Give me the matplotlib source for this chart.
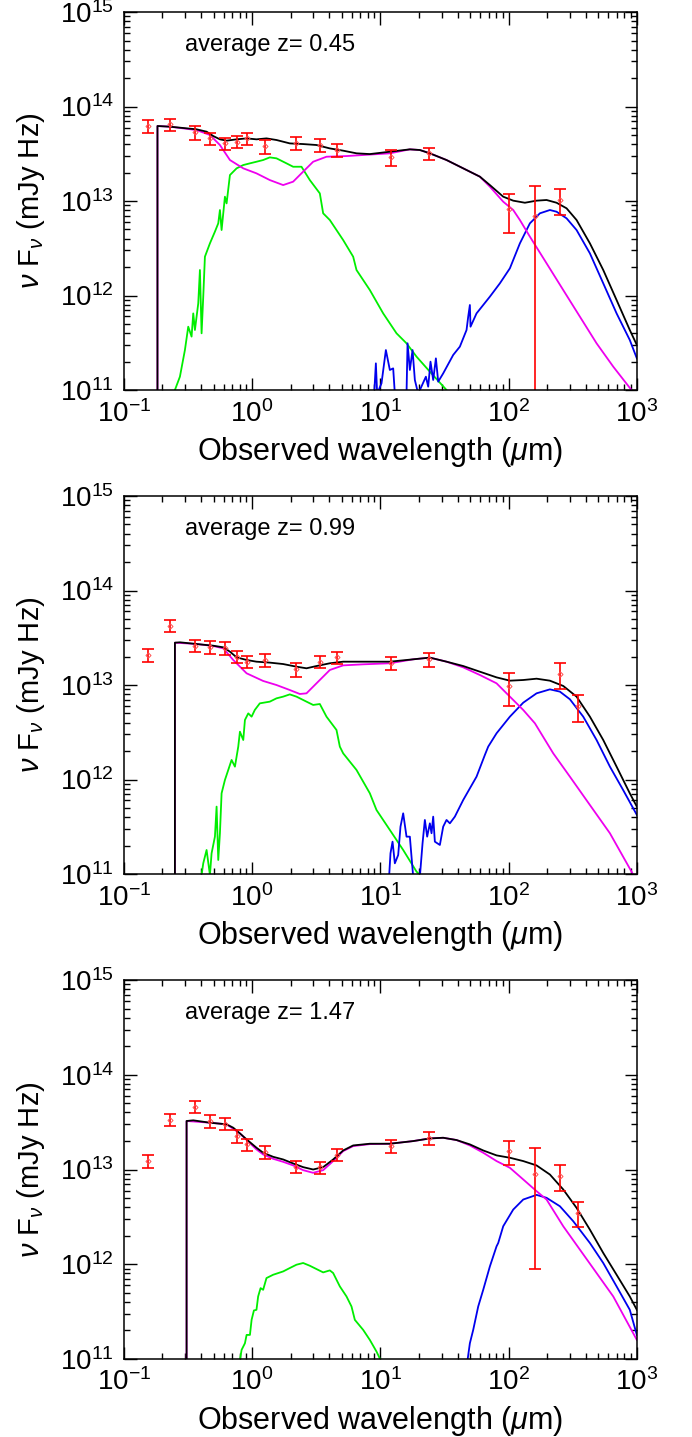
import numpy as np
import matplotlib
matplotlib.use('Agg')
from matplotlib import pyplot as plt
from matplotlib.ticker import LogLocator, NullFormatter

plt.rcParams['font.family'] = ['Liberation Sans', 'DejaVu Sans']
plt.rcParams['mathtext.fontset'] = 'custom'
plt.rcParams['mathtext.rm'] = 'Liberation Sans'
plt.rcParams['mathtext.it'] = 'Liberation Sans:italic'
plt.rcParams['mathtext.bf'] = 'Liberation Sans:bold'

# ---- photometry (wavelength in micron, nuFnu in mJy Hz) ----
wl_all = [0.153, 0.229, 0.356, 0.473, 0.62, 0.763, 0.913, 1.25, 2.2, 3.4, 4.6, 12.0, 24.0, 100.0, 160.0, 250.0, 350.0]

p1_flux = [6.27e13, 6.5e13, 5.33e13, 4.6e13, 4.08e13, 4.24e13, 4.6e13, 3.82e13, 4.14e13, 3.92e13, 3.47e13,
           2.9e13, 3.2e13, 8.2e12, 7.0e12, 1.03e13]
p1_err = [1.0e13, 0.95e13, 0.85e13, 0.65e13, 0.62e13, 0.6e13, 0.7e13, 0.65e13, 0.65e13, 0.6e13, 0.55e13,
          0.55e13, 0.48e13, 3.6e12, 7.3e12, 3.1e12]
p1_wl = wl_all[:16]

p2_flux = [2.07e13, 4.24e13, 2.61e13, 2.51e13, 2.45e13, 2.0e13, 1.77e13, 1.84e13, 1.47e13, 1.77e13, 1.96e13,
           1.72e13, 1.87e13, 9.75e12, 1.30e13, 6.0e12]
p2_err = [0.32e13, 0.6e13, 0.4e13, 0.38e13, 0.37e13, 0.3e13, 0.27e13, 0.28e13, 0.24e13, 0.27e13, 0.3e13,
          0.27e13, 0.3e13, 3.7e12, 3.9e12, 1.9e12]
p2_wl = wl_all[:14] + wl_all[15:]

p3_flux = [1.24e13, 3.36e13, 4.61e13, 3.27e13, 3.05e13, 2.25e13, 1.84e13, 1.52e13, 1.07e13, 1.05e13, 1.44e13,
           1.77e13, 2.14e13, 1.56e13, 8.9e12, 8.6e12, 3.5e12]
p3_err = [0.2e13, 0.5e13, 0.7e13, 0.5e13, 0.46e13, 0.34e13, 0.28e13, 0.23e13, 0.16e13, 0.16e13, 0.22e13,
          0.27e13, 0.32e13, 4.5e12, 8.0e12, 2.6e12, 1.0e12]
p3_wl = wl_all

redshifts = ['0.45', '0.99', '1.47']

# ---- model curves, log10(wavelength) and log10(nuFnu) ----
p1_tot_lx = [-0.738, -0.738, -0.641, -0.433, -0.355, -0.303, -0.251, -0.199, -0.121, -0.043, 0.034, 0.112, 0.190,
             0.294, 0.398, 0.502, 0.606, 0.710, 0.814, 0.918, 1.074, 1.230, 1.308, 1.386, 1.516, 1.646, 1.776,
             1.854, 1.958, 2.036, 2.127, 2.218, 2.296, 2.374, 2.452, 2.530, 2.634, 2.738, 2.842, 2.945, 3.0]
p1_tot_ly = [5.0, 13.794, 13.787, 13.759, 13.734, 13.688, 13.653, 13.639, 13.653, 13.663, 13.653, 13.663, 13.646,
             13.610, 13.603, 13.593, 13.557, 13.533, 13.505, 13.497, 13.522, 13.547, 13.540, 13.505, 13.434, 13.346,
             13.258, 13.169, 13.046, 13.004, 12.982, 13.004, 13.011, 12.982, 12.923, 12.799, 12.552, 12.270,
             11.952, 11.635, 11.476]
p1_agn_lx = [-0.738, -0.738, -0.641, -0.433, -0.329, -0.251, -0.173, -0.069, 0.034, 0.138, 0.242, 0.320, 0.398,
             0.476, 0.580, 0.736, 1.074, 1.230, 1.308, 1.386, 1.516, 1.646, 1.776, 1.854, 1.958, 2.036, 2.088,
             2.166, 2.296, 2.426, 2.556, 2.686, 2.816, 2.958]
p1_agn_ly = [5.0, 13.794, 13.787, 13.751, 13.699, 13.593, 13.434, 13.346, 13.293, 13.222, 13.169, 13.205, 13.311,
             13.416, 13.469, 13.476, 13.505, 13.547, 13.540, 13.505, 13.434, 13.346, 13.258, 13.152, 12.993,
             12.905, 12.799, 12.623, 12.341, 12.058, 11.776, 11.494, 11.247, 11.0]
p1_star_lx = [-0.602, -0.563, -0.524, -0.498, -0.472, -0.459, -0.446, -0.420, -0.407, -0.394, -0.381, -0.368,
              -0.329, -0.290, -0.264, -0.251, -0.238, -0.212, -0.199, -0.173, -0.121, -0.069, -0.017, 0.034, 0.086,
              0.138, 0.190, 0.268, 0.320, 0.385, 0.450, 0.528, 0.554, 0.606, 0.710, 0.788, 0.814, 0.918, 1.022,
              1.126, 1.204, 1.282, 1.386, 1.516]
p1_star_ly = [11.0, 11.141, 11.423, 11.670, 11.565, 11.811, 11.635, 11.917, 12.270, 11.600, 11.988, 12.411,
              12.552, 12.676, 12.764, 12.905, 12.693, 13.046, 12.975, 13.275, 13.346, 13.381, 13.399, 13.416,
              13.434, 13.462, 13.452, 13.399, 13.363, 13.363, 13.222, 13.081, 12.870, 12.799, 12.587, 12.411,
              12.270, 12.058, 11.811, 11.600, 11.494, 11.353, 11.194, 11.0]
p1_dust_lx = [0.952, 0.965, 0.975, 1.009, 1.043, 1.074, 1.100, 1.113, 1.204, 1.212, 1.230, 1.251, 1.269, 1.295,
              1.355, 1.373, 1.391, 1.412, 1.433, 1.451, 1.490, 1.568, 1.620, 1.672, 1.685, 1.698, 1.703, 1.750,
              1.854, 1.932, 2.010, 2.088, 2.166, 2.244, 2.322, 2.374, 2.452, 2.530, 2.634, 2.738, 2.842, 2.945, 3.0]
p1_dust_ly = [10.96, 11.282, 10.96, 11.071, 11.423, 11.212, 11.229, 10.96, 10.96, 11.494, 11.212, 11.423, 11.106,
              10.96, 11.141, 11.035, 11.300, 11.106, 11.335, 11.088, 11.176, 11.371, 11.459, 11.635, 11.776,
              11.900, 11.670, 11.811, 11.988, 12.129, 12.288, 12.552, 12.764, 12.870, 12.905, 12.887, 12.817,
              12.693, 12.446, 12.129, 11.811, 11.529, 11.335]

p2_tot_lx = [-0.602, -0.602, -0.563, -0.433, -0.303, -0.225, -0.173, -0.121, -0.043, 0.034, 0.138, 0.242, 0.346,
             0.424, 0.502, 0.606, 0.710, 0.866, 1.074, 1.256, 1.386, 1.516, 1.646, 1.776, 1.906, 2.010, 2.114,
             2.218, 2.322, 2.426, 2.530, 2.634, 2.738, 2.842, 2.945, 3.0]
p2_tot_ly = [5.0, 13.448, 13.452, 13.434, 13.416, 13.399, 13.353, 13.293, 13.265, 13.247, 13.237, 13.222, 13.194,
             13.177, 13.201, 13.230, 13.247, 13.247, 13.247, 13.272, 13.290, 13.247, 13.201, 13.141, 13.081,
             13.046, 13.053, 13.067, 13.046, 12.990, 12.877, 12.665, 12.418, 12.136, 11.854, 11.713]
p2_agn_lx = [-0.602, -0.602, -0.433, -0.303, -0.225, -0.147, -0.043, 0.086, 0.190, 0.294, 0.372, 0.424, 0.502,
             0.606, 0.710, 0.866, 1.074, 1.256, 1.386, 1.516, 1.646, 1.776, 1.906, 2.010, 2.114, 2.205, 2.348,
             2.478, 2.634, 2.790, 2.966]
p2_agn_ly = [5.0, 13.448, 13.434, 13.413, 13.388, 13.265, 13.124, 13.043, 13.000, 12.947, 12.905, 12.912, 13.018,
             13.159, 13.208, 13.219, 13.230, 13.272, 13.290, 13.247, 13.187, 13.106, 13.018, 12.877, 12.736,
             12.595, 12.277, 12.030, 11.730, 11.431, 11.007]
p2_star_lx = [-0.394, -0.381, -0.355, -0.329, -0.316, -0.290, -0.277, -0.264, -0.251, -0.238, -0.212, -0.186,
              -0.160, -0.134, -0.108, -0.095, -0.069, -0.056, -0.030, -0.004, 0.021, 0.060, 0.138, 0.190, 0.242,
              0.294, 0.346, 0.424, 0.476, 0.528, 0.580, 0.658, 0.684, 0.710, 0.814, 0.918, 0.970, 1.074, 1.178,
              1.282, 1.308]
p2_star_ly = [10.99, 11.113, 11.254, 10.99, 11.219, 11.395, 11.713, 11.148, 11.431, 11.854, 11.995, 12.101,
              12.207, 12.136, 12.348, 12.506, 12.418, 12.630, 12.700, 12.665, 12.736, 12.806, 12.824, 12.859,
              12.877, 12.901, 12.877, 12.824, 12.789, 12.799, 12.665, 12.524, 12.348, 12.277, 12.101, 11.854,
              11.677, 11.466, 11.254, 11.025, 10.99]
p2_dust_lx = [1.069, 1.079, 1.095, 1.113, 1.139, 1.157, 1.178, 1.204, 1.230, 1.256, 1.308, 1.329, 1.347, 1.365,
              1.386, 1.399, 1.412, 1.425, 1.464, 1.490, 1.516, 1.542, 1.581, 1.646, 1.750, 1.815, 1.841, 1.906,
              2.010, 2.114, 2.218, 2.322, 2.400, 2.478, 2.582, 2.686, 2.790, 2.893, 3.0]
p2_dust_ly = [10.99, 11.219, 11.342, 11.113, 11.201, 11.501, 11.642, 11.395, 11.395, 10.97, 10.97, 11.325, 11.572,
              11.395, 11.536, 11.431, 11.607, 11.342, 11.307, 11.501, 11.572, 11.536, 11.607, 11.783, 12.030,
              12.260, 12.348, 12.489, 12.665, 12.813, 12.912, 12.954, 12.930, 12.849, 12.665, 12.418, 12.136,
              11.889, 11.625]

p3_tot_lx = [-0.511, -0.511, -0.459, -0.329, -0.199, -0.147, -0.095, -0.043, 0.034, 0.086, 0.164, 0.242, 0.320,
             0.398, 0.476, 0.554, 0.632, 0.710, 0.788, 0.918, 1.074, 1.256, 1.386, 1.490, 1.594, 1.698, 1.802,
             1.906, 2.010, 2.114, 2.218, 2.322, 2.426, 2.530, 2.634, 2.738, 2.842, 2.945, 3.0]
p3_tot_ly = [5.0, 13.512, 13.519, 13.494, 13.477, 13.441, 13.381, 13.318, 13.230, 13.177, 13.134, 13.106, 13.064,
             13.025, 13.000, 13.025, 13.106, 13.201, 13.254, 13.272, 13.272, 13.300, 13.328, 13.335, 13.311,
             13.265, 13.201, 13.149, 13.124, 13.089, 13.043, 12.947, 12.789, 12.595, 12.365, 12.119, 11.889,
             11.660, 11.519]
p3_agn_lx = [-0.511, -0.511, -0.329, -0.199, -0.095, -0.043, 0.034, 0.086, 0.164, 0.242, 0.320, 0.398, 0.476,
             0.554, 0.632, 0.710, 0.788, 0.918, 1.074, 1.256, 1.386, 1.490, 1.594, 1.698, 1.802, 1.906, 2.010,
             2.114, 2.218, 2.296, 2.426, 2.556, 2.686, 2.816, 3.0]
p3_agn_ly = [5.0, 13.512, 13.494, 13.477, 13.381, 13.311, 13.212, 13.159, 13.113, 13.081, 13.043, 12.993, 12.965,
             12.993, 13.089, 13.194, 13.247, 13.268, 13.272, 13.300, 13.328, 13.335, 13.311, 13.254, 13.177,
             13.089, 13.018, 12.895, 12.771, 12.683, 12.401, 12.154, 11.907, 11.660, 11.201]
p3_star_lx = [-0.095, -0.082, -0.056, -0.043, -0.017, -0.004, 0.014, 0.034, 0.047, 0.066, 0.086, 0.112, 0.164,
              0.242, 0.294, 0.346, 0.398, 0.450, 0.502, 0.554, 0.606, 0.632, 0.684, 0.736, 0.775, 0.801, 0.866,
              0.918, 0.970, 1.001]
p3_star_ly = [10.99, 11.096, 11.166, 11.254, 11.254, 11.413, 11.512, 11.519, 11.660, 11.748, 11.730, 11.854,
              11.889, 11.924, 11.960, 11.995, 12.013, 11.984, 11.949, 11.914, 11.935, 11.907, 11.766, 11.660,
              11.554, 11.413, 11.307, 11.201, 11.078, 10.99]
p3_dust_lx = [1.680, 1.698, 1.724, 1.763, 1.802, 1.854, 1.906, 1.919, 1.958, 2.036, 2.114, 2.218, 2.296, 2.400,
              2.504, 2.634, 2.738, 2.842, 2.945, 3.0]
p3_dust_ly = [10.99, 11.166, 11.307, 11.554, 11.730, 11.977, 12.189, 12.224, 12.401, 12.577, 12.683, 12.732,
              12.701, 12.612, 12.454, 12.224, 12.013, 11.766, 11.519, 11.254]

panels = [
    (p1_wl, p1_flux, p1_err, p1_tot_lx, p1_tot_ly, p1_agn_lx, p1_agn_ly, p1_star_lx, p1_star_ly, p1_dust_lx, p1_dust_ly),
    (p2_wl, p2_flux, p2_err, p2_tot_lx, p2_tot_ly, p2_agn_lx, p2_agn_ly, p2_star_lx, p2_star_ly, p2_dust_lx, p2_dust_ly),
    (p3_wl, p3_flux, p3_err, p3_tot_lx, p3_tot_ly, p3_agn_lx, p3_agn_ly, p3_star_lx, p3_star_ly, p3_dust_lx, p3_dust_ly),
]

fig = plt.figure(figsize=(6.92, 14.37), dpi=100)
ax_boxes = [[0.179, 0.7286, 0.7413, 0.263],
            [0.179, 0.3918, 0.7413, 0.263],
            [0.179, 0.0543, 0.7413, 0.2637]]

for box, z, pan in zip(ax_boxes, redshifts, panels):
    wl, fl, er, tlx, tly, alx, aly, slx, sly, dlx, dly = pan
    ax = fig.add_axes(box)
    lw = 1.3
    ax.plot(10**np.array(slx), 10**np.array(sly), color='#00ee00', lw=lw)
    ax.plot(10**np.array(dlx), 10**np.array(dly), color='#0000ee', lw=lw)
    ax.plot(10**np.array(alx), 10**np.array(aly), color='#ee00ee', lw=lw)
    ax.plot(10**np.array(tlx), 10**np.array(tly), color='black', lw=lw)
    ax.errorbar(wl, fl, yerr=er, fmt='none', ecolor='red', elinewidth=1.2, capsize=4.5, capthick=1.2)
    ax.plot(wl, fl, 'D', ms=2.6, mfc='none', mec='#ff5050', mew=0.7)

    ax.set_xscale('log')
    ax.set_yscale('log')
    ax.set_xlim(0.1, 1000)
    ax.set_ylim(1e11, 1e15)
    ax.xaxis.set_major_locator(LogLocator(base=10, numticks=10))
    ax.xaxis.set_minor_locator(LogLocator(base=10, subs=np.arange(2, 10), numticks=20))
    ax.yaxis.set_minor_locator(LogLocator(base=10, subs=np.arange(2, 10), numticks=20))
    ax.xaxis.set_minor_formatter(NullFormatter())
    ax.yaxis.set_minor_formatter(NullFormatter())
    ax.tick_params(which='both', direction='in', top=True, right=True, labelsize=20, width=1.0)
    ax.tick_params(which='major', length=9, pad=7)
    ax.tick_params(which='minor', length=4.5)
    for sp in ax.spines.values():
        sp.set_linewidth(1.1)

    ax.set_xlabel(r'Observed wavelength ($\mu$m)', fontsize=22)
    ax.xaxis.set_label_coords(0.5, -0.12)
    ax.set_ylabel(r'$\nu$ F$_\nu$ (mJy Hz)', fontsize=21)
    ax.yaxis.set_label_coords(-0.15, 0.5)
    ax.text(0.12, 0.913, 'average z= ' + z, transform=ax.transAxes, fontsize=17, va='center', ha='left')

fig.savefig('out.png', dpi=100)
